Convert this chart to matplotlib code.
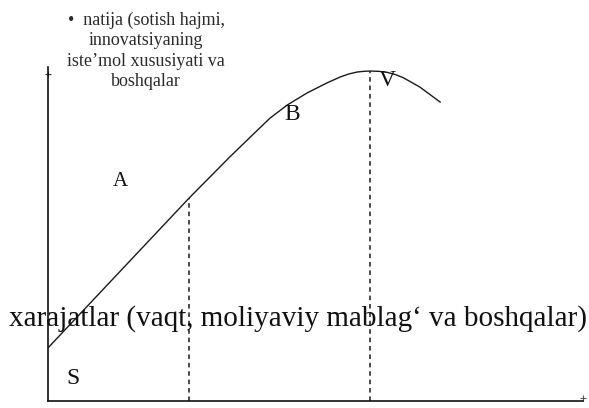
import matplotlib
matplotlib.use("Agg")
import matplotlib.pyplot as plt

# curve (x: effort, y: result, both 0..100)
curve_x = [0, 26.4, 34.0, 37.8, 41.5, 44.7, 48.4, 52.1, 54.6, 56.2, 57.8, 59.0, 60.2,
           61.8, 63.4, 65.0, 66.4, 69.5, 73.3]
curve_y = [15.9, 60.8, 73.1, 79.0, 84.7, 88.6, 92.2, 95.2, 97.0, 97.9, 98.5, 98.7, 98.8,
           98.7, 98.4, 97.7, 96.8, 94.0, 89.5]

# dashed drop lines
drop_x = [26.4, 60.2]
drop_y = [60.8, 98.8]

# region letters
letters = ["A", "B", "V", "S"]
letter_x = [13.5, 45.6, 63.4, 4.7]
letter_y = [65.6, 85.9, 96.1, 6.6]

y_label = "•  natija (sotish hajmi,\ninnovatsiyaning\niste’mol xususiyati va\nboshqalar"
x_label = "xarajatlar (vaqt, moliyaviy mablag‘ va boshqalar)"

W, H = 589, 408
fig = plt.figure(figsize=(W / 100, H / 100), dpi=100)
ax = fig.add_axes([48 / W, 7 / H, 535 / W, 334 / H])
ax.set_xlim(0, 100)
ax.set_ylim(0, 100)

ax.plot(curve_x, curve_y, color="#1a1a1a", lw=1.0, solid_joinstyle="round")
ax.vlines(drop_x, 0, drop_y, colors="#1a1a1a", linestyles=(0, (3, 2.5)), lw=1.1)

for s, x, y in zip(letters, letter_x, letter_y):
    ax.text(x, y, s, fontsize=17 if s != "A" else 15, family="Liberation Serif",
            ha="center", va="center", color="#111111")

for side in ["top", "right"]:
    ax.spines[side].set_visible(False)
for side in ["left", "bottom"]:
    ax.spines[side].set_linewidth(1.2)
    ax.spines[side].set_color("#111111")
ax.set_xticks([])
ax.set_yticks([])
ax.patch.set_alpha(0)

# tiny arrow marks at the ends of the axes
ax.plot([0], [98], marker="+", ms=5, mew=0.8, color="#333333", clip_on=False)
ax.plot([100], [0.8], marker="+", ms=4, mew=0.8, color="#555555", clip_on=False)

fig.text(146 / W, 1 - 12 / H, y_label, ha="center", va="top", fontsize=13,
         family="Liberation Serif", color="#2a2a2a", linespacing=1.24)
fig.text(298 / W, 1 - 326 / H, x_label, ha="center", va="baseline", fontsize=21,
         family="Liberation Serif", color="#111111")

fig.savefig("out.png", dpi=100)
